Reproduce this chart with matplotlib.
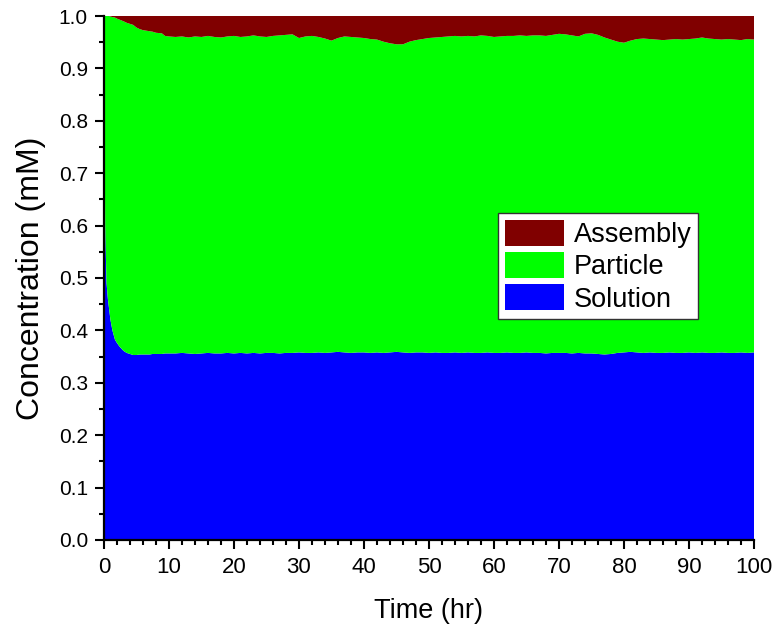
import numpy as np
import matplotlib.pyplot as plt
from matplotlib.ticker import MultipleLocator

# time grid (hr): dense during the initial uptake, hourly afterwards
time = np.concatenate([
    [0.0, 0.05, 0.1, 0.2, 0.3, 0.4, 0.6, 0.8, 1.0, 1.3, 1.7, 2.0, 2.4, 3.0,
     3.5, 4.0, 4.5, 5.0, 5.5, 6.0, 7.0, 7.5, 8.0, 8.9, 9.4, 10.0],
    np.arange(11, 101),
])

# concentration in solution (mM)
solution = np.array([
    1.000, 0.860, 0.740, 0.600, 0.540, 0.490, 0.460, 0.440, 0.420, 0.400,
    0.382, 0.376, 0.369, 0.361, 0.357, 0.355, 0.353, 0.353, 0.354, 0.354,
    0.354, 0.355, 0.355, 0.355, 0.356, 0.356,
    # 11-100
    0.356, 0.357, 0.356, 0.355, 0.356, 0.357, 0.356, 0.356, 0.357, 0.356,
    0.357, 0.356, 0.357, 0.356, 0.357, 0.357, 0.356, 0.357, 0.357, 0.358,
    0.357, 0.357, 0.358, 0.357, 0.358, 0.359, 0.358, 0.357, 0.358, 0.358,
    0.357, 0.358, 0.357, 0.358, 0.359, 0.358, 0.357, 0.358, 0.358, 0.357,
    0.358, 0.357, 0.357, 0.358, 0.357, 0.358, 0.357, 0.357, 0.358, 0.357,
    0.357, 0.358, 0.357, 0.357, 0.358, 0.357, 0.357, 0.356, 0.357, 0.357,
    0.357, 0.356, 0.357, 0.356, 0.356, 0.355, 0.354, 0.355, 0.357, 0.358,
    0.359, 0.358, 0.357, 0.358, 0.357, 0.357, 0.358, 0.357, 0.357, 0.358,
    0.357, 0.358, 0.357, 0.357, 0.358, 0.357, 0.357, 0.358, 0.357, 0.358,
])

# concentration held in assemblies (mM)
assembly = np.array([
    0.000, 0.000, 0.000, 0.000, 0.000, 0.000, 0.000, 0.000, 0.001, 0.002,
    0.003, 0.005, 0.007, 0.010, 0.013, 0.015, 0.017, 0.022, 0.025, 0.027,
    0.029, 0.030, 0.032, 0.033, 0.038, 0.039,
    # 11-100
    0.040, 0.039, 0.041, 0.039, 0.040, 0.038, 0.040, 0.041, 0.039, 0.038,
    0.040, 0.039, 0.037, 0.039, 0.040, 0.038, 0.037, 0.036, 0.035, 0.042,
    0.039, 0.038, 0.040, 0.043, 0.047, 0.042, 0.039, 0.040, 0.041, 0.042,
    0.044, 0.045, 0.049, 0.052, 0.054, 0.054, 0.049, 0.046, 0.044, 0.042,
    0.041, 0.040, 0.039, 0.038, 0.039, 0.038, 0.039, 0.037, 0.038, 0.040,
    0.039, 0.038, 0.038, 0.037, 0.038, 0.037, 0.037, 0.038, 0.036, 0.034,
    0.035, 0.037, 0.039, 0.034, 0.033, 0.036, 0.041, 0.045, 0.049, 0.051,
    0.047, 0.044, 0.043, 0.044, 0.045, 0.046, 0.045, 0.044, 0.045, 0.044,
    0.043, 0.041, 0.043, 0.044, 0.045, 0.044, 0.045, 0.046, 0.044, 0.045,
])

# total is conserved, the rest sits on particles
total = 1.0
particle = total - solution - assembly

labels = ['Solution', 'Particle', 'Assembly']
colors = ['#0000ff', '#00ff00', '#800000']

plt.rcParams['font.family'] = ['Liberation Sans', 'DejaVu Sans']

fig = plt.figure(figsize=(7.77, 6.3), dpi=100)
ax = fig.add_axes([0.1338, 0.1429, 0.8366, 0.8317])

polys = ax.stackplot(time, solution, particle, assembly,
                     colors=colors, labels=labels, linewidth=0)

ax.set_xlim(0, 100)
ax.set_ylim(0, 1.0)

ax.xaxis.set_major_locator(MultipleLocator(10))
ax.xaxis.set_minor_locator(MultipleLocator(2))
ax.yaxis.set_major_locator(MultipleLocator(0.1))
ax.yaxis.set_minor_locator(MultipleLocator(0.05))
ax.yaxis.set_major_formatter(plt.FormatStrFormatter('%.1f'))

for side in ['top', 'right']:
    ax.spines[side].set_visible(False)
for side in ['left', 'bottom']:
    ax.spines[side].set_linewidth(1.6)

ax.tick_params(which='major', direction='out', length=6.5, width=1.5)
ax.tick_params(which='minor', direction='out', length=3.6, width=1.5)
ax.tick_params(axis='y', which='major', labelsize=15, pad=5)
ax.tick_params(axis='x', which='major', labelsize=16, pad=6)

ax.set_xlabel('Time (hr)', fontsize=19.5, labelpad=14)
ax.set_ylabel('Concentration (mM)', fontsize=23, labelpad=9)

handles = polys[::-1]
leg = ax.legend(handles, labels[::-1], loc='upper left',
                bbox_to_anchor=(0.606, 0.624), fontsize=19.5,
                frameon=True, fancybox=False, framealpha=1,
                edgecolor='#333333', handlelength=2.2, handleheight=1.1,
                handletextpad=0.35, labelspacing=0.15, borderpad=0.25,
                borderaxespad=0)
leg.get_frame().set_linewidth(1.0)

fig.savefig('out.png', dpi=100)
